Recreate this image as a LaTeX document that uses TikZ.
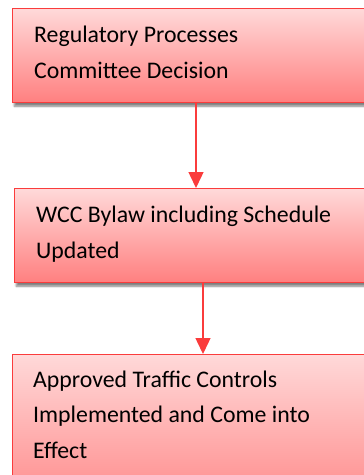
\documentclass[tikz,border=0pt]{standalone}
\usepackage{fontspec}
\setmainfont{Carlito}
\usetikzlibrary{arrows.meta,shadows.blur}
\definecolor{boxedge}{RGB}{250,60,60}
\begin{document}
\begin{tikzpicture}[x=1pt,y=-1pt,
  stagebox/.style={draw=boxedge, line width=1.4pt, top color=red!15, bottom color=red!50,
    anchor=north west, inner sep=0pt,
    blur shadow={shadow xshift=1.5pt, shadow yshift=-3.5pt, shadow blur steps=6, shadow opacity=50}},
  stagetext/.style={anchor=base west, inner sep=0pt, align=left,
    font=\fontsize{23.8pt}{35.3pt}\selectfont},
  flow/.style={draw=boxedge, line width=1.4pt, -{Triangle[width=15pt,length=16pt]}}]
\useasboundingbox (0,0) rectangle (364,475);
\clip (0,0) rectangle (364,475);
% stage boxes (they run past the right and bottom edges)
\node[stagebox, minimum width=388pt, minimum height=94pt] (b1) at (12,8) {};
\node[stagebox, minimum width=386pt, minimum height=94pt] (b2) at (14,188) {};
\node[stagebox, minimum width=388pt, minimum height=170pt] (b3) at (12,354) {};
% labels, placed by the baseline of their last line
\node[stagetext] (t1) at (34,78) {Regulatory Processes\\Committee Decision};
\node[stagetext] (t2) at (36,258) {WCC Bylaw including Schedule\\Updated};
\node[stagetext] (t3) at (33,458) {Approved Traffic Controls\\Implemented and Come into\\Effect};
% connectors
\coordinate (x1) at (196,0);
\coordinate (x2) at (203,0);
\draw[flow] (b1.south -| x1) -- (b2.north -| x1);
\draw[flow] (b2.south -| x2) -- (b3.north -| x2);
\end{tikzpicture}
\end{document}
